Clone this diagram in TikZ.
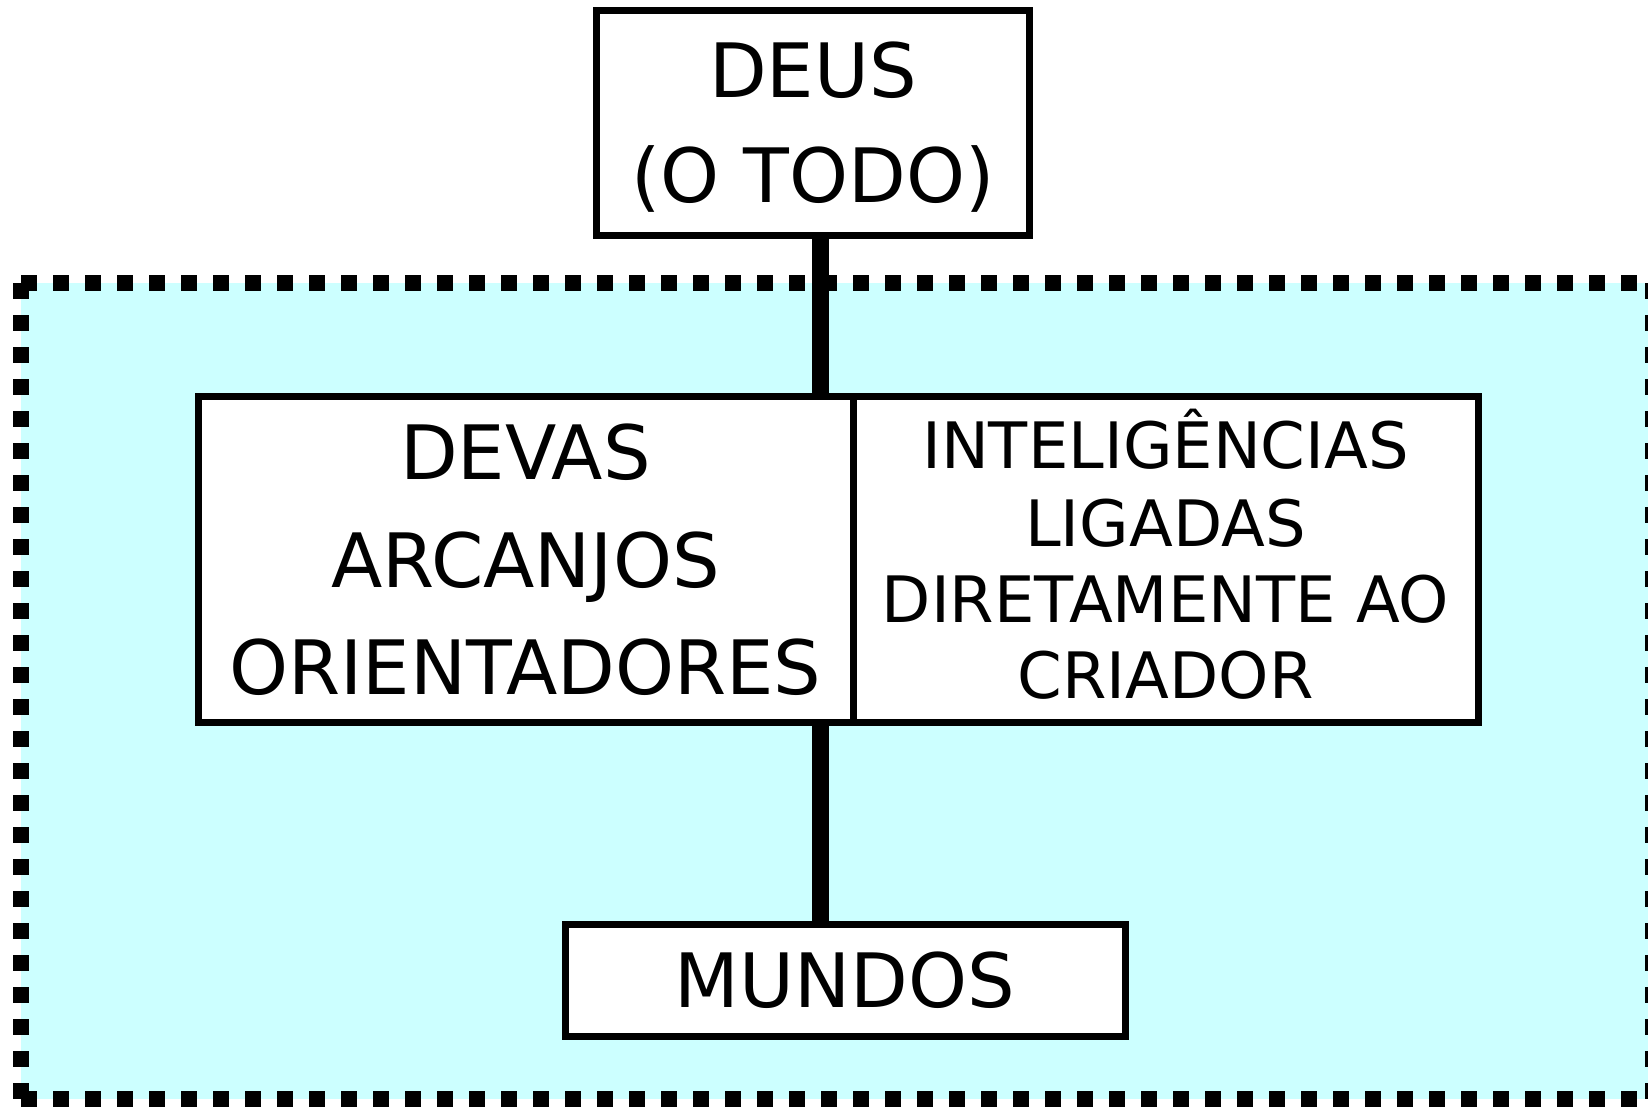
\documentclass[tikz,border=0pt]{standalone}
\usepackage{fontspec}
\setmainfont{DejaVu Sans}
\definecolor{bgcyan}{RGB}{204,255,255}
\begin{document}
\begin{tikzpicture}[x=1pt,y=-1pt,
  box/.style={draw=black, line width=7pt, fill=white, rectangle, inner sep=0pt},
  lbl/.style={anchor=base, inner sep=0pt, font=\fontsize{75}{90}\selectfont},
  lbls/.style={anchor=base, inner sep=0pt, font=\fontsize{64}{77}\selectfont},
  stem/.style={line width=17pt, draw=black},
  frame/.style={draw=black, line width=16pt, dash pattern=on 16pt off 16pt}]
\useasboundingbox (0,0) rectangle (1648,1108);
% background region
\coordinate (c1) at (21,283);
\coordinate (c2) at (1653,283);
\coordinate (c3) at (21,1099);
\coordinate (c4) at (1653,1099);
\fill[bgcyan] (c1) rectangle (c4);
\draw[frame] (c1) -- (c2);
\draw[frame] (c1) -- (c3);
\draw[frame] (c2) -- (c4);
\draw[frame] (c3) -- (c4);
% boxes
\node[box, minimum width=433pt, minimum height=225pt] (deus) at (813,123) {};
\node[box, minimum width=655pt, minimum height=326pt] (devas) at (525.5,559) {};
\node[box, minimum width=625pt, minimum height=326pt] (intel) at (1165.5,559) {};
\node[box, minimum width=560pt, minimum height=112pt] (mundos) at (845,980) {};
% connectors
\coordinate (sx) at (820,0);
\draw[stem] (deus.south -| sx) -- (devas.north -| sx);
\draw[stem] (devas.south -| sx) -- (mundos.north -| sx);
% texts
\node[lbl] (t1) at (813,97) {DEUS};
\node[lbl] (t2) at (813,202) {(O TODO)};
\node[lbl] (t3) at (525.5,479) {DEVAS};
\node[lbl] (t4) at (525.5,587) {ARCANJOS};
\node[lbl] (t5) at (525.5,694) {ORIENTADORES};
\node[lbls] (t6) at (1165.5,468.5) {INTELIGÊNCIAS};
\node[lbls] (t7) at (1165.5,546) {LIGADAS};
\node[lbls] (t8) at (1165.5,622.5) {DIRETAMENTE AO};
\node[lbls] (t9) at (1165.5,698.5) {CRIADOR};
\node[lbl] (t10) at (845,1007) {MUNDOS};
\end{tikzpicture}
\end{document}
